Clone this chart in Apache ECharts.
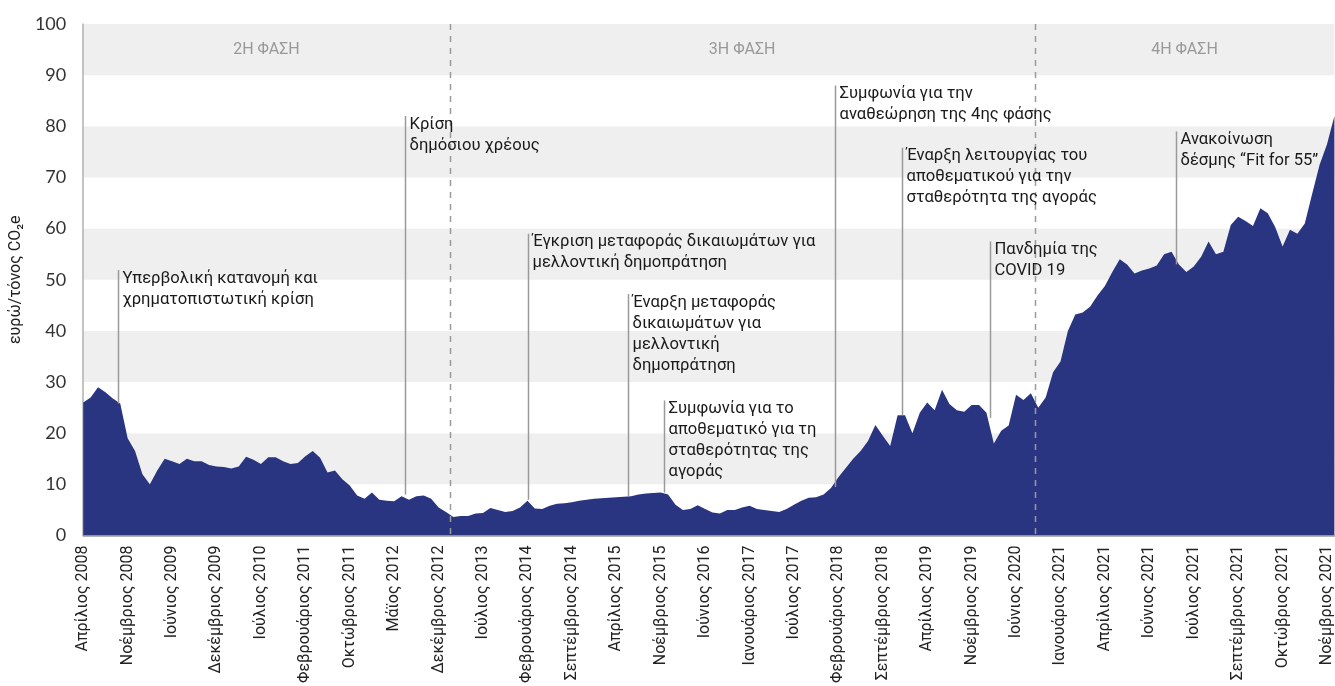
<!DOCTYPE html>
<html>
<head>
<meta charset="utf-8">
<style>
  html, body { margin: 0; padding: 0; background: #fff; }
  #main { width: 1335px; height: 686px; }
</style>
<script src="https://cdn.jsdelivr.net/npm/echarts@6/dist/echarts.min.js"></script>
</head>
<body>
<div id="main"></div>
<script>
// x-axis tick labels, one every 6 points
const tickLabels = [
  'Απρίλιος 2008', 'Νοέμβριος 2008', 'Ιούνιος 2009', 'Δεκέμβριος 2009', 'Ιούλιος 2010',
  'Φεβρουάριος 2011', 'Οκτώβριος 2011', 'Μάϊος 2012', 'Δεκέμβριος 2012', 'Ιούλιος 2013',
  'Φεβρουάριος 2014', 'Σεπτέμβριος 2014', 'Απρίλιος 2015', 'Νοέμβριος 2015', 'Ιούνιος 2016',
  'Ιανουάριος 2017', 'Ιούλιος 2017', 'Φεβρουάριος 2018', 'Σεπτέμβριος 2018', 'Απρίλιος 2019',
  'Νοέμβριος 2019', 'Ιούνιος 2020', 'Ιανουάριος 2021', 'Απρίλιος 2021', 'Ιούνιος 2021',
  'Ιούλιος 2021', 'Σεπτέμβριος 2021', 'Οκτώβριος 2021', 'Νοέμβριος 2021'
];
const tickStep = 6;

// price, ευρώ/τόνος CO2e
const prices = [
  26, 27, 29, 28, 26.8, 25.8, 19, 16.5, 12, 10,
  12.7, 15, 14.5, 14, 15, 14.5, 14.5, 13.8, 13.5, 13.4,
  13.1, 13.5, 15.4, 14.8, 14, 15.3, 15.3, 14.5, 14, 14.2,
  15.5, 16.5, 15.2, 12.3, 12.7, 11, 9.8, 7.8, 7.2, 8.4,
  7, 6.8, 6.7, 7.7, 7, 7.7, 7.8, 7.2, 5.5, 4.6,
  3.6, 3.8, 3.8, 4.3, 4.4, 5.4, 5, 4.6, 4.8, 5.5,
  6.8, 5.3, 5.2, 5.8, 6.2, 6.3, 6.5, 6.8, 7, 7.2,
  7.3, 7.4, 7.5, 7.6, 7.7, 8, 8.2, 8.3, 8.4, 8,
  6, 5, 5.2, 5.9, 5.2, 4.5, 4.3, 5, 5, 5.5,
  5.8, 5.2, 5, 4.8, 4.6, 5.2, 6, 6.8, 7.4, 7.5,
  8, 9.3, 11.4, 13.2, 15, 16.5, 18.5, 21.6, 19.5, 17.5,
  23.5, 23.5, 20, 24, 26, 24.5, 28.5, 25.7, 24.5, 24.2,
  25.5, 25.5, 24, 18, 20.5, 21.5, 27.5, 26.5, 27.8, 25,
  27, 31.9, 34, 40, 43.2, 43.6, 44.7, 46.9, 48.8, 51.5,
  54, 53, 51.2, 51.8, 52.2, 52.8, 55, 55.5, 53, 51.5,
  52.6, 54.5, 57.5, 55, 55.5, 60.7, 62.3, 61.5, 60.5, 64,
  63, 60.3, 56.5, 59.8, 59, 61, 66.8, 72.5, 76.5, 82
];

// phases: start / end position (point index) and label
const phaseNames = ['2Η ΦΑΣΗ', '3Η ΦΑΣΗ', '4Η ΦΑΣΗ'];
const phaseBounds = [0, 49.5, 128.5, 169];

// annotations: position (point index), line bottom, line top, text
const noteX = [4.7, 43.5, 60.1, 73.6, 78.4, 101.6, 110.6, 122.5, 147.6];
const noteLow = [25.8, 8, 7, 7.7, 8.4, 9.5, 23.5, 23, 53];
const noteHigh = [51.9, 82, 59, 47.2, 26.4, 88, 75.8, 57.5, 79];
const noteText = [
  'Υπερβολική κατανομή και\nχρηματοπιστωτική κρίση',
  'Κρίση\nδημόσιου χρέους',
  'Έγκριση μεταφοράς δικαιωμάτων για\nμελλοντική δημοπράτηση',
  'Έναρξη μεταφοράς\nδικαιωμάτων για\nμελλοντική\nδημοπράτηση',
  'Συμφωνία για το\nαποθεματικό για τη\nσταθερότητας της\nαγοράς',
  'Συμφωνία για την\nαναθεώρηση της 4ης φάσης',
  'Έναρξη λειτουργίας του\nαποθεματικού για την\nσταθερότητα της αγοράς',
  'Πανδημία της\nCOVID 19',
  'Ανακοίνωση\nδέσμης “Fit for 55”'
];

const categories = prices.map((v, i) => i % tickStep === 0 ? tickLabels[i / tickStep] : '');

const chartDom = document.getElementById('main');
const myChart = echarts.init(chartDom);

const option = {
  animation: false,
  grid: { left: 83, right: 0, top: 24, bottom: 149 },
  xAxis: {
    type: 'category',
    boundaryGap: false,
    data: categories,
    axisLine: { lineStyle: { color: '#9a9a9a', width: 1.5 } },
    axisTick: { show: false },
    axisLabel: {
      interval: tickStep - 1,
      rotate: 90,
      margin: 10,
      fontFamily: 'Roboto',
      fontSize: 16,
      color: '#222'
    },
    splitLine: { show: false }
  },
  yAxis: {
    type: 'value',
    min: 0,
    max: 100,
    interval: 10,
    name: 'ευρώ/τόνος CO₂e',
    nameLocation: 'middle',
    nameGap: 58,
    nameTextStyle: { fontFamily: 'Roboto', fontSize: 16, color: '#222' },
    axisLine: { show: true, lineStyle: { color: '#b0b0b0', width: 1.5 } },
    axisTick: { show: false },
    axisLabel: { fontFamily: 'Lato', fontSize: 18, color: '#333', margin: 17 },
    splitLine: { show: false },
    splitArea: { show: true, areaStyle: { color: ['#ffffff', '#efefef'] } }
  },
  series: [
    {
      type: 'line',
      data: prices,
      symbol: 'none',
      lineStyle: { width: 0 },
      areaStyle: { color: '#293580', opacity: 1 },
      z: 2
    }
  ]
};
myChart.setOption(option);

// overlays placed through the chart's own scales
const x0 = myChart.convertToPixel({ xAxisIndex: 0 }, 0);
const x1 = myChart.convertToPixel({ xAxisIndex: 0 }, prices.length - 1);
const px = v => x0 + (x1 - x0) * v / (prices.length - 1);
const py = v => myChart.convertToPixel({ yAxisIndex: 0 }, v);

const graphic = [];
[1, 2].forEach(i => {
  const x = Math.round(px(phaseBounds[i])) + 0.5;
  graphic.push({
    type: 'line', z: 5,
    shape: { x1: x, y1: py(100), x2: x, y2: py(0) },
    style: { stroke: '#9a9a9a', lineWidth: 1.5, lineDash: [6, 6] }
  });
});
phaseNames.forEach((t, i) => {
  graphic.push({
    type: 'text', z: 5,
    x: (px(phaseBounds[i]) + px(phaseBounds[i + 1])) / 2,
    y: py(95),
    style: {
      text: t, fontFamily: 'Roboto', fontSize: 16, fill: '#999',
      align: 'center', verticalAlign: 'middle'
    }
  });
});
noteText.forEach((t, i) => {
  const x = Math.round(px(noteX[i])) + 0.5;
  graphic.push({
    type: 'line', z: 5,
    shape: { x1: x, y1: py(noteHigh[i]), x2: x, y2: py(noteLow[i]) },
    style: { stroke: '#9a9a9a', lineWidth: 1.5 }
  });
  graphic.push({
    type: 'text', z: 6,
    x: x + 4,
    y: py(noteHigh[i]) - 2,
    style: {
      text: t, fontFamily: 'Roboto', fontSize: 16.6, lineHeight: 21,
      fill: '#1a1a1a', align: 'left', verticalAlign: 'top'
    }
  });
});
myChart.setOption({ graphic: graphic });
</script>
</body>
</html>
